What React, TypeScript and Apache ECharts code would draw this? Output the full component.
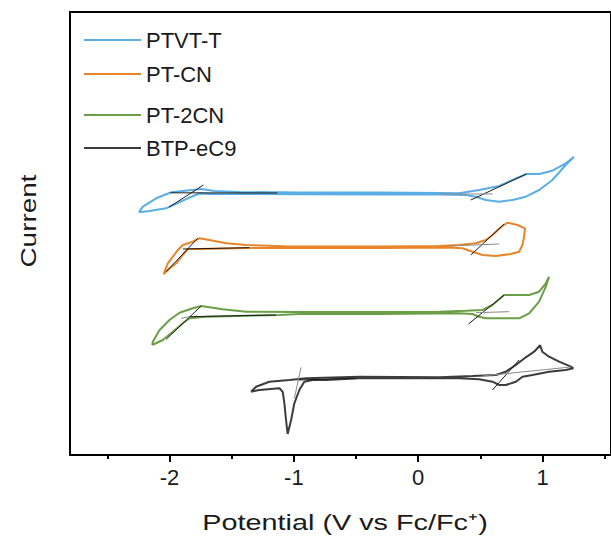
import React, { useEffect, useRef } from "react";
import * as echarts from "echarts";

const seriesNames = ["PTVT-T", "PT-CN", "PT-2CN", "BTP-eC9"];
const seriesColors = ["#5aaee6", "#e8852a", "#6a9f48", "#3c3c3c"];

const ptvtT = [
  [-2.247, 24.27], [-2.214, 24.83], [-2.107, 25.67], [-1.986, 26.27], [-1.855, 26.45], [-1.745, 26.6], [-1.639, 26.4],
  [-1.438, 26.3], [-0.956, 26.25], [-0.313, 26.25], [0.169, 26.2], [0.329, 26.17], [0.49, 26.5], [0.651, 26.9],
  [0.757, 27.5], [0.87, 28.1], [0.972, 28.1], [1.079, 28.43], [1.186, 29.17], [1.253, 29.83],
  [1.186, 29.0], [1.079, 27.5], [0.972, 26.5], [0.865, 25.83], [0.757, 25.5], [0.651, 25.33], [0.544, 25.5],
  [0.463, 25.83], [0.383, 26.0], [0.169, 26.05], [-0.313, 26.05], [-0.956, 26.07], [-1.438, 26.1], [-1.679, 26.1],
  [-1.759, 26.15], [-1.853, 25.67], [-1.96, 25.05], [-2.0, 24.83], [-2.027, 24.67], [-2.161, 24.4], [-2.247, 24.27],
];

const ptCN = [
  [-2.048, 18.07], [-2.014, 19.17], [-1.973, 19.83], [-1.933, 20.5], [-1.893, 21.0], [-1.813, 21.33], [-1.759, 21.67],
  [-1.679, 21.5], [-1.545, 21.17], [-1.384, 21.0], [-1.036, 20.85], [-0.313, 20.85], [0.169, 20.9], [0.329, 21.0],
  [0.463, 21.17], [0.544, 21.5], [0.597, 22.0], [0.664, 22.77], [0.717, 23.23], [0.798, 23.0], [0.859, 22.67],
  [0.851, 21.83], [0.838, 21.0], [0.811, 20.33], [0.745, 20.1], [0.624, 19.9], [0.516, 20.0], [0.436, 20.33],
  [0.356, 20.67], [0.249, 20.75], [-0.313, 20.7], [-1.036, 20.7], [-1.357, 20.7], [-1.759, 20.6], [-1.853, 20.6],
  [-1.893, 20.0], [-1.946, 19.17], [-2.014, 18.5], [-2.048, 18.07],
];

const pt2CN = [
  [-2.139, 11.0], [-2.134, 11.33], [-2.08, 12.5], [-2.0, 13.5], [-1.92, 14.23], [-1.813, 14.67], [-1.745, 14.9],
  [-1.572, 14.57], [-1.384, 14.33], [-0.956, 14.3], [-0.313, 14.3], [0.169, 14.33], [0.383, 14.43], [0.516, 14.5],
  [0.597, 15.0], [0.691, 16.0], [0.785, 16.0], [0.892, 16.0], [0.972, 16.33], [1.026, 17.17], [1.052, 17.83],
  [1.026, 16.83], [0.972, 15.33], [0.892, 14.17], [0.811, 13.67], [0.651, 13.67], [0.544, 13.67], [0.49, 13.83],
  [0.436, 14.1], [0.329, 14.17], [-0.313, 14.1], [-0.956, 14.1], [-1.116, 14.0], [-1.705, 13.83], [-1.839, 13.67],
  [-1.893, 13.17], [-1.973, 12.33], [-2.054, 11.5], [-2.139, 11.0],
];

const btpEC9 = [
  [-1.344, 6.33], [-1.304, 6.83], [-1.197, 7.33], [-1.036, 7.5], [-0.902, 7.67], [-0.474, 7.83], [0.169, 7.77],
  [0.436, 7.9], [0.624, 8.0], [0.704, 8.33], [0.785, 9.0], [0.865, 9.77], [0.932, 10.33], [0.98, 10.97],
  [0.998, 10.33], [1.052, 9.83], [1.133, 9.33], [1.227, 8.83], [1.247, 8.67],
  [1.186, 8.5], [1.052, 8.33], [0.918, 8.0], [0.838, 7.83], [0.785, 7.33], [0.704, 7.0], [0.651, 7.0],
  [0.597, 7.33], [0.49, 7.57], [0.329, 7.67], [0.169, 7.67], [-0.474, 7.67], [-0.741, 7.5], [-0.849, 7.5],
  [-0.916, 7.33], [-0.956, 6.5], [-0.996, 5.17], [-1.022, 3.5], [-1.05, 2.1], [-1.063, 3.5], [-1.076, 5.17],
  [-1.09, 6.33], [-1.116, 6.67], [-1.277, 6.5], [-1.344, 6.33],
];

// onset tangent lines (dark) and baselines (gray)
const darkTangents = [
  [[-2.005, 24.77], [-1.727, 27.0]],
  [[-1.992, 26.22], [-1.133, 26.2]],
  [[0.423, 25.5], [0.87, 28.1]],
  [[-2.027, 18.33], [-1.773, 21.67]],
  [[-1.893, 20.6], [-1.357, 20.73]],
  [[0.423, 20.0], [0.691, 23.1]],
  [[-2.027, 11.57], [-1.745, 14.9]],
  [[-1.839, 13.83], [-1.143, 14.0]],
  [[0.404, 13.1], [0.691, 16.0]],
  [[-0.969, 7.5], [-0.5, 7.67]],
  [[0.597, 6.5], [0.811, 9.5]],
];
const grayTangents = [
  [[0.169, 26.1], [0.597, 26.1]],
  [[0.249, 20.9], [0.651, 21.1]],
  [[-1.906, 13.67], [-1.839, 13.83]],
  [[0.463, 14.23], [0.731, 14.33]],
  [[-0.942, 8.77], [-0.996, 5.67]],
  [[0.516, 7.9], [1.227, 8.8]],
];

const majorTicks = [-2, -1, 0, 1];
const minorTicks = [-2.5, -1.5, -0.5, 0.5, 1.5];
const legendCenters = [41, 75, 116, 149];
const xTitle = "Potential (V vs Fc/Fc⁺)";
const yTitle = "Current";

const curves = [ptvtT, ptCN, pt2CN, btpEC9];

export default function App() {
  const ref = useRef<HTMLDivElement>(null);
  useEffect(() => {
    if (!ref.current) return;
    const chart = echarts.init(ref.current, null, { renderer: "svg" });
    const font = "Liberation Sans, Arial, sans-serif";
    const series: any[] = curves.map((d, i) => ({
      name: seriesNames[i],
      type: "line",
      data: d,
      symbol: "none",
      smooth: false,
      color: seriesColors[i],
      lineStyle: { width: 2, color: seriesColors[i] },
      z: 2,
    }));
    darkTangents.forEach((seg, i) => {
      series.push({
        name: "tangent" + i,
        type: "line",
        data: seg,
        symbol: "none",
        lineStyle: { width: 1, color: "#1a1a1a" },
        z: 3,
        silent: true,
      });
    });
    grayTangents.forEach((seg, i) => {
      series.push({
        name: "baseline" + i,
        type: "line",
        data: seg,
        symbol: "none",
        lineStyle: { width: 1, color: "#8a8a8a" },
        z: 3,
        silent: true,
      });
    });
    chart.setOption({
      animation: false,
      textStyle: { fontFamily: font },
      grid: {
        left: 70,
        top: 12,
        width: 542,
        height: 443,
        show: true,
        borderColor: "#000",
        borderWidth: 2,
        containLabel: false,
      },
      legend: seriesNames.map((n, i) => ({
        data: [n],
        left: 84,
        top: legendCenters[i] - 12,
        padding: 0,
        icon: "rect",
        itemWidth: 57,
        itemHeight: 2,
        selectedMode: false,
        textStyle: { fontSize: 22, color: "#1a1a1a", fontFamily: font },
      })),
      graphic: [
        {
          type: "text",
          x: 345,
          y: 522,
          scaleX: 1.31,
          silent: true,
          style: {
            text: xTitle,
            fontSize: 22,
            fontFamily: font,
            fill: "#1a1a1a",
            textAlign: "center",
            textVerticalAlign: "middle",
          },
        },
        {
          type: "text",
          x: 28,
          y: 221,
          rotation: Math.PI / 2,
          scaleX: 1.27,
          silent: true,
          style: {
            text: yTitle,
            fontSize: 22,
            fontFamily: font,
            fill: "#1a1a1a",
            textAlign: "center",
            textVerticalAlign: "middle",
          },
        },
      ],
      xAxis: [
        {
          type: "value",
          min: -2.8,
          max: 1.55,
          position: "bottom",
          axisLine: { show: true, onZero: false, lineStyle: { color: "#000", width: 2 } },
          axisTick: { show: true, customValues: majorTicks, length: 7, lineStyle: { color: "#000", width: 2 } },
          axisLabel: { show: true, customValues: majorTicks, fontSize: 22, color: "#1a1a1a", margin: 11, fontFamily: font },
          splitLine: { show: false },
        },
        {
          type: "value",
          min: -2.8,
          max: 1.55,
          position: "bottom",
          axisLine: { show: false, onZero: false },
          axisTick: { show: true, customValues: minorTicks, length: 4, lineStyle: { color: "#000", width: 2 } },
          axisLabel: { show: false },
          splitLine: { show: false },
        },
      ],
      yAxis: {
        type: "value",
        min: 0,
        max: 44.3,
        axisLine: { show: true, onZero: false, lineStyle: { color: "#000", width: 2 } },
        axisTick: { show: false },
        axisLabel: { show: false },
        splitLine: { show: false },
      },
      series,
    });
    return () => chart.dispose();
  }, []);
  return (
    <div
      ref={ref}
      style={{ position: "absolute", left: 0, top: 0, width: 611, height: 541 }}
    />
  );
}
